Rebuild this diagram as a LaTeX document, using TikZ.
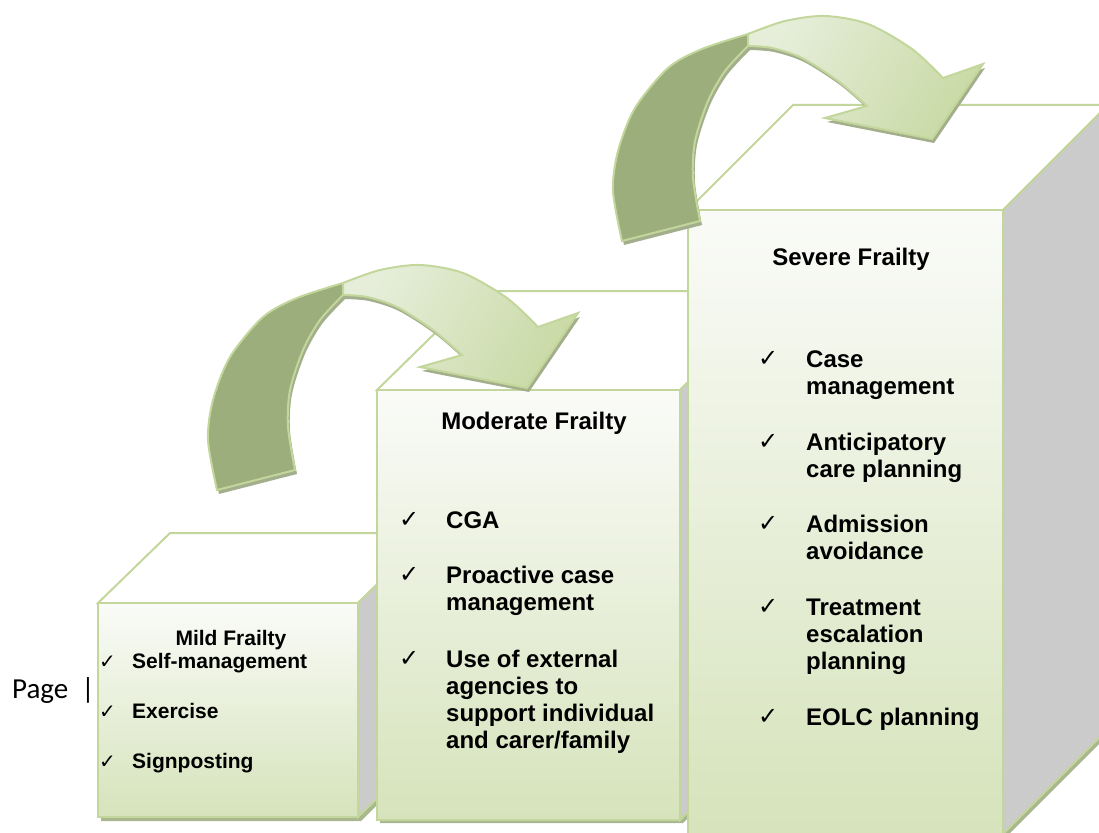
\documentclass[tikz,border=0pt]{standalone}
\usepackage{fontspec}
\setmainfont{Liberation Sans}
\newfontfamily\pagefont{Carlito}
\newfontfamily\tickfont{DejaVu Sans}
\definecolor{bordergreen}{HTML}{C3D69B}
\definecolor{facetop}{HTML}{FAFBF8}
\definecolor{facebot}{HTML}{D6E3BB}
\definecolor{sidegray}{HTML}{CBCBCB}
\definecolor{shadowcol}{HTML}{A9B78F}
\definecolor{arrowdark}{HTML}{9BAE7B}
\definecolor{arrowlightA}{HTML}{E6EEDA}
\definecolor{arrowlightB}{HTML}{C9DAA6}
\definecolor{arrowshadow}{HTML}{A3AF8C}
\tikzset{
  edge/.style={draw=bordergreen, line width=2pt, line join=miter},
  topface/.style={edge, fill=white},
  sideface/.style={edge, fill=sidegray},
  frontface/.style={edge, top color=facetop, bottom color=facebot},
  boxshadow/.style={fill=shadowcol},
  bigtitle/.style={font=\bfseries\fontsize{24}{27}\selectfont, anchor=base, inner sep=0pt},
  smalltitle/.style={font=\bfseries\fontsize{21}{24}\selectfont, anchor=base, inner sep=0pt},
  bigitem/.style={font=\bfseries\fontsize{24}{27}\selectfont, anchor=base west, align=left, inner sep=0pt},
  smallitem/.style={font=\bfseries\fontsize{21}{24}\selectfont, anchor=base west, align=left, inner sep=0pt},
  bigtick/.style={font=\tickfont\fontsize{24}{26}\selectfont, anchor=base west, inner sep=0pt},
  smalltick/.style={font=\tickfont\fontsize{20}{22}\selectfont, anchor=base west, inner sep=0pt},
  curvedarrow/.pic={
    \fill[arrowshadow, shift={(2,4)}]
      plot[smooth] coordinates {(217,490)(208,440)(213,400)(230,357)(263,317)(297,298)(343,283)}
      -- plot[smooth] coordinates {(343,295)(320,320)(303,350)(290,390)(288,427)(295,470)} -- cycle;
    \fill[arrowshadow, shift={(2,4)}]
      plot[smooth] coordinates {(343,283)(380,270)(420,265)(463,273)(507,298)(538,327)}
      -- (578,313) -- (527,388) -- (420,367)
      -- plot[smooth] coordinates {(462,355)(433,330)(397,307)(367,297)(343,295)} -- cycle;
    \path[edge, fill=arrowdark]
      plot[smooth] coordinates {(217,490)(208,440)(213,400)(230,357)(263,317)(297,298)(343,283)}
      -- plot[smooth] coordinates {(343,295)(320,320)(303,350)(290,390)(288,427)(295,470)} -- cycle;
    \path[edge, left color=arrowlightA, right color=arrowlightB, shading angle=60]
      plot[smooth] coordinates {(343,283)(380,270)(420,265)(463,273)(507,298)(538,327)}
      -- (578,313) -- (527,388) -- (420,367)
      -- plot[smooth] coordinates {(462,355)(433,330)(397,307)(367,297)(343,295)} -- cycle;
  }
}
\begin{document}
\begin{tikzpicture}[x=1pt, y=-1pt]
\useasboundingbox (0,0) rectangle (1099,832);
\clip (0,0) rectangle (1099,832);

% ---- Mild box
\fill[boxshadow] (101,606) -- (361,606) -- (433,536) -- (433,750) -- (361,821) -- (101,821) -- cycle;
\path[topface] (98,603) -- (170,533) -- (430,533) -- (358,603) -- cycle;
\path[sideface] (358,603) -- (430,533) -- (430,747) -- (358,817) -- cycle;
\path[frontface] (98,603) rectangle (358,817);

% ---- Moderate box
\fill[boxshadow] (380,393) -- (683,393) -- (784,294) -- (784,722) -- (683,823) -- (380,823) -- cycle;
\path[topface] (377,390) -- (478,291) -- (781,291) -- (680,390) -- cycle;
\path[sideface] (680,390) -- (781,291) -- (781,719) -- (680,820) -- cycle;
\path[frontface] (377,390) rectangle (680,820);

% ---- Severe box
\fill[boxshadow] (691,213) -- (1006,213) -- (1111,108) -- (1111,732) -- (1006,837) -- (691,837) -- cycle;
\path[topface] (688,210) -- (793,105) -- (1108,105) -- (1003,210) -- cycle;
\path[sideface] (1003,210) -- (1108,105) -- (1108,729) -- (1003,834) -- cycle;
\path[frontface] (688,210) rectangle (1003,834);

% ---- Arrows
\pic (arrowA) at (0,0) {curvedarrow};
\pic (arrowB) at (405,-249) {curvedarrow};

% ---- Page label
\node[font=\pagefont\fontsize{29}{30}\selectfont, anchor=base west, inner sep=0pt] (page) at (12,698) {Page\hspace{13pt}|};

% ---- Mild texts (multi-line nodes are placed by their last baseline)
\node[smalltitle] (mildT) at (231,645) {Mild Frailty};
\node[smalltick] (mt1) at (99,668) {✓};
\node[smallitem] (mi1) at (132,668) {Self-management};
\node[smalltick] (mt2) at (99,718) {✓};
\node[smallitem] (mi2) at (132,718) {Exercise};
\node[smalltick] (mt3) at (99,768) {✓};
\node[smallitem] (mi3) at (132,768) {Signposting};

% ---- Moderate texts
\node[bigtitle] (modT) at (534,429) {Moderate Frailty};
\node[bigtick] (dt1) at (399,527) {✓};
\node[bigitem] (di1) at (446,528) {CGA};
\node[bigtick] (dt2) at (399,582) {✓};
\node[bigitem] (di2) at (446,610) {Proactive case\\management};
\node[bigtick] (dt3) at (399,666) {✓};
\node[bigitem] (di3) at (446,748) {Use of external\\agencies to\\support individual\\and carer/family};

% ---- Severe texts
\node[bigtitle] (sevT) at (851,265) {Severe Frailty};
\node[bigtick] (st1) at (758,366) {✓};
\node[bigitem] (si1) at (806,394) {Case\\management};
\node[bigtick] (st2) at (758,449) {✓};
\node[bigitem] (si2) at (806,477) {Anticipatory\\care planning};
\node[bigtick] (st3) at (758,531) {✓};
\node[bigitem] (si3) at (806,559) {Admission\\avoidance};
\node[bigtick] (st4) at (758,614) {✓};
\node[bigitem] (si4) at (806,669) {Treatment\\escalation\\planning};
\node[bigtick] (st5) at (758,724) {✓};
\node[bigitem] (si5) at (806,725) {EOLC planning};
\end{tikzpicture}
\end{document}
